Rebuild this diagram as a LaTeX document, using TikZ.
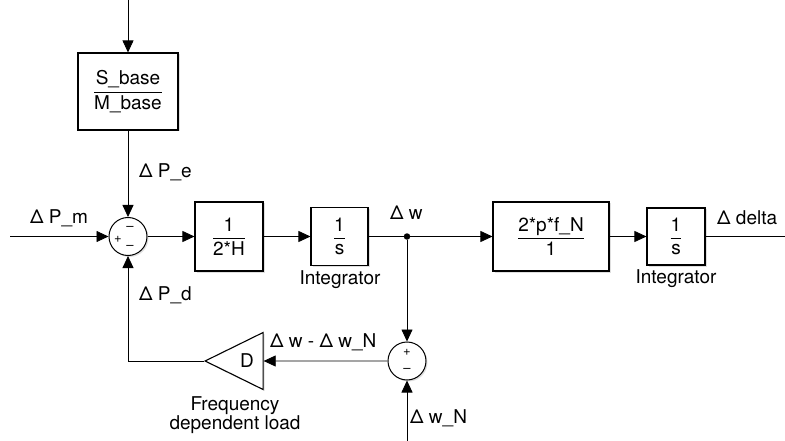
\documentclass[tikz,border=0pt]{standalone}
\usepackage{amsmath}
\usepackage{fontspec}
\setmainfont{TeX Gyre Heros}
\usetikzlibrary{arrows.meta,shapes.geometric,shadows}
\newcommand{\blkfrac}[2]{$\genfrac{}{}{0.9pt}{0}{\text{#1}}{\text{#2}}$}

\begin{document}
\begin{tikzpicture}[x=1pt, y=-1pt, every node/.style={font=\fontsize{19}{19}\selectfont}, >={Triangle[length=12pt, width=11pt]}, wire/.style={line width=0.8pt}, blk/.style={draw, line width=1.1pt, fill=white, inner sep=0pt, drop shadow={opacity=0.25, shadow xshift=1.5pt, shadow yshift=-1.5pt}}, sumc/.style={draw, circle, line width=1pt, fill=white, minimum size=38pt, inner sep=0pt, drop shadow={opacity=0.25, shadow xshift=1.5pt, shadow yshift=-1.5pt}}, gain/.style={draw, isosceles triangle, isosceles triangle stretches, shape border rotate=180, line width=1.1pt, fill=white, minimum width=57pt, minimum height=58pt, inner sep=0pt, drop shadow={opacity=0.25, shadow xshift=1.5pt, shadow yshift=-1.5pt}}, sgn/.style={font=\fontsize{13}{13}\selectfont, inner sep=0pt}, lbl/.style={anchor=west, inner sep=0pt}, dot/.style={circle, fill, minimum size=6.5pt, inner sep=0pt}]
	\useasboundingbox (0,0) rectangle (785,441);
	\coordinate (top) at (128,0);
	\coordinate (in) at (10,236.5);
	\coordinate (out) at (785,236.5);
	\coordinate (wn) at (407,441);
	\node[blk, minimum width=100pt, minimum height=77pt] (base) at (128,91.5) {\blkfrac{S\_base}{M\_base}};
	\node[sumc] (sumP) at (128,236.5) {};
	\node[sgn] (sPa) at (118,239) {+};
	\node[sgn] (sPb) at (130,228) {--};
	\node[sgn] (sPc) at (130,247) {--};
	\node[blk, minimum width=68pt, minimum height=69pt] (invH) at (229,236.5) {\blkfrac{1}{2*H}};
	\node[blk, minimum width=57pt, minimum height=58pt] (int1) at (339.5,236.5) {\blkfrac{1}{s}};
	\node[dot] (jw) at (407,236.5) {};
	\node[blk, minimum width=116pt, minimum height=69pt] (gainN) at (551,236.5) {\blkfrac{2*p*f\_N}{1}};
	\node[blk, minimum width=58pt, minimum height=57pt] (int2) at (676,236.5) {\blkfrac{1}{s}};
	\node[sumc] (sumW) at (407,361) {};
	\node[sgn] (sWa) at (407,352) {+};
	\node[sgn] (sWb) at (407,370) {--};
	\node[gain] (D) at (247,361) {D};
	% labels
	\node[lbl] (lPe) at (139,172) {Δ P\_e};
	\node[lbl] (lPm) at (30,218) {Δ P\_m};
	\node[lbl] (lPd) at (139,295) {Δ P\_d};
	\node[lbl] (lw) at (390,213) {Δ w};
	\node[lbl] (ldelta) at (717,218) {Δ delta};
	\node[lbl] (ldw) at (270,342) {Δ w - Δ w\_N};
	\node[lbl] (lwN) at (410,418) {Δ w\_N};
	\node (lint1) at (340,280) {Integrator};
	\node (lint2) at (676,279) {Integrator};
	\node[align=center] (lFd) at (235,415) {Frequency\\dependent load};
	% connectors
	\draw[->, wire] (top) -- (base);
	\draw[->, wire] (base) -- (sumP);
	\draw[->, wire] (in) -- (sumP);
	\draw[->, wire] (sumP) -- (invH);
	\draw[->, wire] (invH) -- (int1);
	\draw[wire] (int1) -- (jw);
	\draw[->, wire] (jw) -- (gainN);
	\draw[->, wire] (gainN) -- (int2);
	\draw[wire] (int2) -- (out);
	\draw[->, wire] (jw) -- (sumW);
	\draw[->, wire] (wn) -- (sumW);
	\draw[->, wire] (sumW) -- (D);
	\draw[->, wire] (D.apex) -| (sumP);
\end{tikzpicture}
\end{document}
